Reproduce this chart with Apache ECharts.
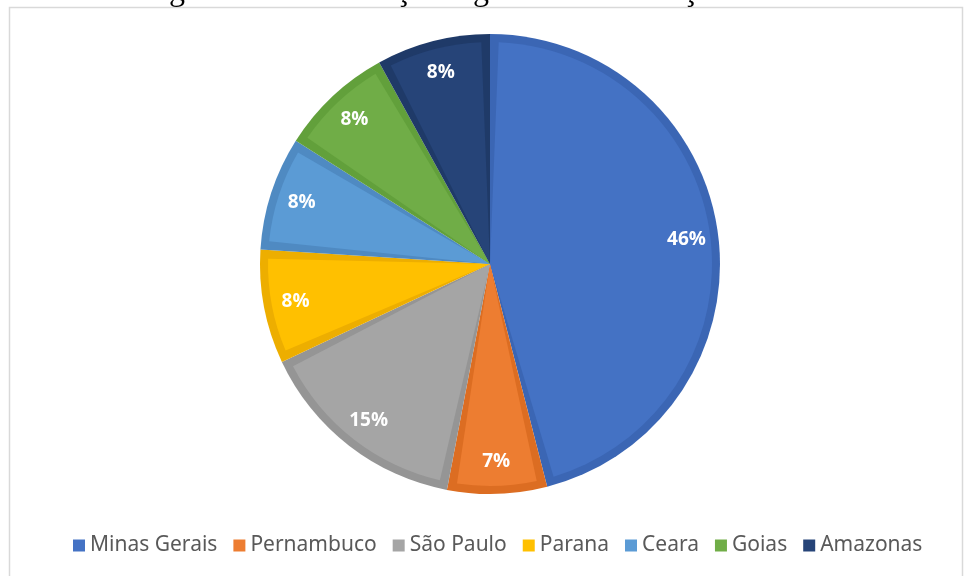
<!DOCTYPE html>
<html>
<head>
<meta charset="utf-8">
<script src="https://cdn.jsdelivr.net/npm/echarts@6/dist/echarts.min.js"></script>
<style>html,body{margin:0;padding:0;background:#fff;}#c{width:964px;height:576px;}</style>
</head>
<body>
<div id="c"></div>
<script>
const categories = ['Minas Gerais', 'Pernambuco', 'São Paulo', 'Parana', 'Ceara', 'Goias', 'Amazonas'];
const values = [46, 7, 15, 8, 8, 8, 8];
const fillColors = ['#4472C4', '#ED7D31', '#A5A5A5', '#FFC000', '#5B9BD5', '#70AD47', '#264478'];
const bandColors = ['#3B66B4', '#DC6D22', '#959595', '#EDAE00', '#4F8AC2', '#62A03B', '#1F3A68'];
const titleText = 'Figura 5 – Distribuição regional de instalações';

const chart = echarts.init(document.getElementById('c'), null, {renderer: 'canvas'});
const mk = (cols) => categories.map((n, i) => ({name: n, value: values[i], itemStyle: {color: cols[i]}}));
const center = [490, 264];
chart.setOption({
  animation: false,
  backgroundColor: '#ffffff',
  graphic: [
    {type: 'rect', shape: {x: 9.5, y: 7.5, width: 953, height: 580}, style: {fill: null, stroke: '#d9d9d9', lineWidth: 1.5}, z: 0},
    {type: 'text', x: 441, y: 8, style: {text: titleText, font: '32px "Liberation Serif", "Times New Roman", serif', fill: '#000', align: 'center', verticalAlign: 'bottom'}, z: 5}
  ],
  legend: {
    data: categories,
    bottom: 15,
    left: 68,
    icon: 'rect',
    itemWidth: 12,
    itemHeight: 12,
    itemGap: 16,
    textStyle: {color: '#595959', fontSize: 21, fontFamily: 'Noto Sans'}
  },
  series: [
    {
      name: 'fill', type: 'pie', center: center, radius: [0, 222], startAngle: 90, clockwise: true,
      padAngle: 4.5, silent: true, z: 2,
      label: {show: false}, labelLine: {show: false},
      data: mk(fillColors)
    },
    {
      name: 'band', type: 'pie', center: center, radius: [0, 230], startAngle: 90, clockwise: true,
      silent: true, z: 1,
      label: {show: false}, labelLine: {show: false},
      data: mk(bandColors)
    },
    {
      name: 'labels', type: 'pie', center: center, radius: [162, 228], startAngle: 90, clockwise: true,
      silent: true, z: 3,
      itemStyle: {color: 'rgba(0,0,0,0)'},
      label: {show: true, position: 'inside', formatter: '{c}%', color: '#ffffff', fontSize: 19, fontWeight: 'bold', fontFamily: 'Open Sans'},
      labelLine: {show: false},
      data: categories.map((n, i) => ({name: n, value: values[i], itemStyle: {color: 'rgba(0,0,0,0)'}}))
    }
  ]
});
</script>
</body>
</html>
